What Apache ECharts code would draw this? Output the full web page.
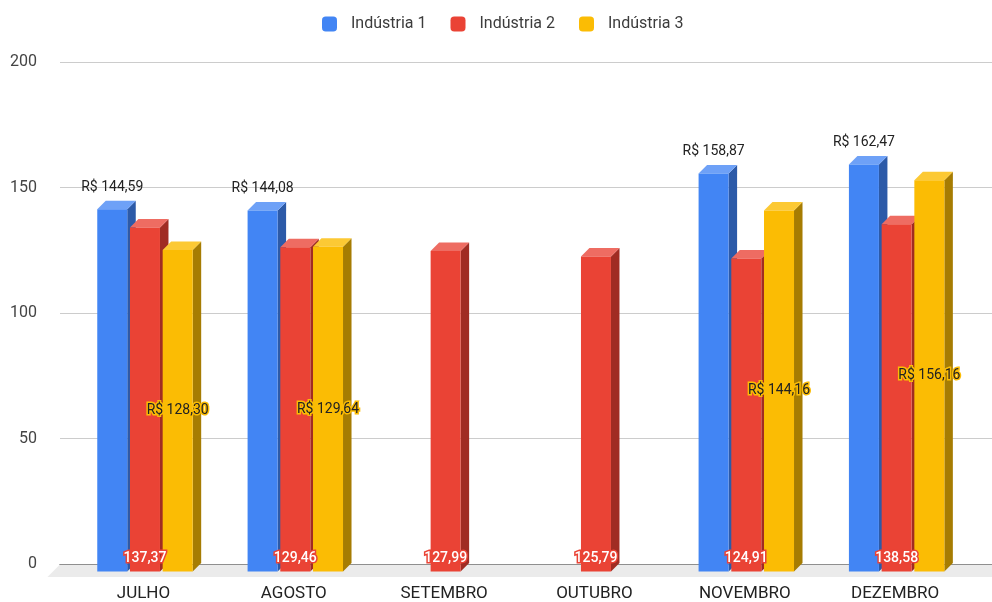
<!DOCTYPE html>
<html>
<head>
<meta charset="utf-8">
<script src="https://cdn.jsdelivr.net/npm/echarts@6/dist/echarts.min.js"></script>
<style>
html,body{margin:0;padding:0;background:#fff;}
#chart{width:992px;height:602px;}
</style>
</head>
<body>
<div id="chart"></div>
<script>
const categories = ['JULHO', 'AGOSTO', 'SETEMBRO', 'OUTUBRO', 'NOVEMBRO', 'DEZEMBRO'];
const seriesNames = ['Indústria 1', 'Indústria 2', 'Indústria 3'];
const industria1 = [144.59, 144.08, null, null, 158.87, 162.47];
const industria2 = [137.37, 129.46, 127.99, 125.79, 124.91, 138.58];
const industria3 = [128.30, 129.64, null, null, 144.16, 156.16];
const yTickLabels = [0, 50, 100, 150, 200];

const allValues = [industria1, industria2, industria3];
const palette = [
  { front: '#4285f4', top: '#6ea1f7', side: '#2c5aa8' },
  { front: '#ea4335', top: '#ee6c62', side: '#a02c23' },
  { front: '#fbbc04', top: '#fcc934', side: '#a67c02' }
];
const DEPTH = 8.5;
const FONT = 'Roboto, "Noto Sans", sans-serif';

function fmt(v) { return v.toFixed(2).replace('.', ','); }

function geom(idx, api) {
  const k = api.value(0), v = api.value(1);
  const p = api.coord([k, v]);
  const zy = api.coord([k, 0])[1];
  const band = api.size([1, 0])[0];
  const step = band * 0.2176;
  const w = band * 0.1996;
  const fc = p[0] + band * 0.01 + (idx - 1) * step;
  return { v, fc, x0: fc - w / 2, x1: fc + w / 2, vy: p[1], zy };
}

function barRender(idx) {
  return function (params, api) {
    const g = geom(idx, api);
    const c = palette[idx];
    const yf = g.vy + DEPTH, yb = g.zy + DEPTH;
    return {
      type: 'group',
      children: [
        { type: 'polygon', shape: { points: [[g.x1, yf], [g.x1 + DEPTH, g.vy], [g.x1 + DEPTH, g.zy], [g.x1, yb]] }, style: { fill: c.side } },
        { type: 'polygon', shape: { points: [[g.x0, yf], [g.x1, yf], [g.x1 + DEPTH, g.vy], [g.x0 + DEPTH, g.vy]] }, style: { fill: c.top } },
        { type: 'rect', shape: { x: g.x0, y: yf, width: g.x1 - g.x0, height: yb - yf }, style: { fill: c.front } }
      ]
    };
  };
}

function labelRender(idx) {
  return function (params, api) {
    const g = geom(idx, api);
    const yf = g.vy + DEPTH, yb = g.zy + DEPTH;
    let style;
    if (idx === 0) {
      style = { text: 'R$ ' + fmt(g.v), x: g.fc, y: g.vy - 13.5, fill: '#222' };
    } else if (idx === 1) {
      style = { text: fmt(g.v), x: g.fc, y: yb - 13.5, fill: '#fff', stroke: '#ea4335', lineWidth: 3, fontWeight: 500 };
    } else {
      style = { text: 'R$ ' + fmt(g.v), x: g.fc, y: (yf + yb) / 2, fill: '#222', stroke: '#fbbc04', lineWidth: 3 };
    }
    style.fontSize = 14;
    style.fontFamily = FONT;
    style.align = 'center';
    style.verticalAlign = 'middle';
    return { type: 'text', style };
  };
}

function toData(arr) {
  const out = [];
  arr.forEach((v, k) => { if (v != null) out.push([k, v]); });
  return out;
}

const series = [{
  type: 'custom',
  xAxisIndex: 0, yAxisIndex: 0,
  silent: true, z: 1, clip: false,
  data: [[0, 0]],
  renderItem: function (params, api) {
    const cs = params.coordSys;
    const yb = cs.y + cs.height;
    return { type: 'polygon', shape: { points: [[cs.x, yb + 0.5], [cs.x + cs.width, yb + 0.5], [cs.x + cs.width, yb + 13], [cs.x - 12.5, yb + 13]] }, style: { fill: '#ebebeb' } };
  }
}];
allValues.forEach((arr, i) => {
  series.push({
    type: 'custom', name: seriesNames[i], xAxisIndex: 1, yAxisIndex: 1, z: 2 + i, clip: false,
    itemStyle: { color: palette[i].front },
    encode: { x: 0, y: 1 },
    data: toData(arr),
    renderItem: barRender(i)
  });
});
allValues.forEach((arr, i) => {
  series.push({
    type: 'custom', name: seriesNames[i], xAxisIndex: 1, yAxisIndex: 1, z: 10, clip: false, silent: true,
    itemStyle: { color: palette[i].front },
    encode: { x: 0, y: 1 },
    data: toData(arr),
    renderItem: labelRender(i)
  });
});

const chart = echarts.init(document.getElementById('chart'), null, { renderer: 'canvas' });
chart.setOption({
  animation: false,
  backgroundColor: '#fff',
  textStyle: { fontFamily: FONT },
  legend: {
    data: seriesNames.map(n => ({ name: n, icon: 'roundRect' })),
    left: 322, top: 16, padding: 0,
    itemWidth: 15, itemHeight: 15, itemGap: 24,
    textStyle: { fontSize: 16, color: '#3c3c3c', fontFamily: FONT, padding: [0, 0, 0, 9] }
  },
  grid: [
    { left: 60, right: 0, top: 62, bottom: 38 },
    { left: 68.3, right: 21.7, top: 62, bottom: 38 }
  ],
  xAxis: [
    { gridIndex: 0, type: 'value', min: 0, max: 1, axisLine: { show: true, lineStyle: { color: '#333', width: 1 } }, axisTick: { show: false }, axisLabel: { show: false }, splitLine: { show: false } },
    { gridIndex: 1, type: 'category', data: categories, axisLine: { show: false }, axisTick: { show: false }, axisLabel: { interval: 0, fontSize: 17, color: '#222', margin: 22, fontFamily: FONT }, splitLine: { show: false } }
  ],
  yAxis: [
    { gridIndex: 0, type: 'value', min: yTickLabels[0], max: yTickLabels[yTickLabels.length - 1], interval: yTickLabels[1] - yTickLabels[0],
      axisLine: { show: false }, axisTick: { show: false },
      axisLabel: { fontSize: 16, color: '#444', margin: 23, fontFamily: FONT },
      splitLine: { lineStyle: { color: '#cccccc', width: 1 } } },
    { gridIndex: 1, type: 'value', min: yTickLabels[0], max: yTickLabels[yTickLabels.length - 1], show: false }
  ],
  series
});
</script>
</body>
</html>
